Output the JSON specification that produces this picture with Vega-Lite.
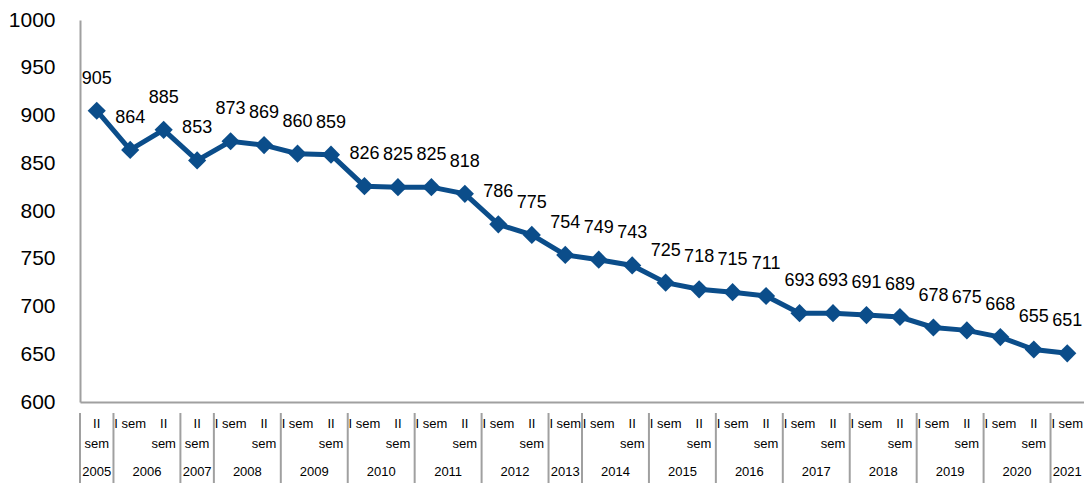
{
  "$schema": "https://vega.github.io/schema/vega-lite/v6.json",
  "padding": {"left": 8, "top": 9, "right": 0, "bottom": 0},
  "spacing": 0,
  "config": {
    "view": {"stroke": null},
    "font": "Liberation Sans",
    "axis": {"labelFont": "Liberation Sans", "labelColor": "#000000"}
  },
  "datasets": {
    "series": [
      {"p": "2005-II", "year": "2005", "sem": "II\nsem", "v": 905},
      {"p": "2006-I", "year": "2006", "sem": "I sem", "v": 864},
      {"p": "2006-II", "year": "2006", "sem": "II\nsem", "v": 885},
      {"p": "2007-II", "year": "2007", "sem": "II\nsem", "v": 853},
      {"p": "2008-I", "year": "2008", "sem": "I sem", "v": 873},
      {"p": "2008-II", "year": "2008", "sem": "II\nsem", "v": 869},
      {"p": "2009-I", "year": "2009", "sem": "I sem", "v": 860},
      {"p": "2009-II", "year": "2009", "sem": "II\nsem", "v": 859},
      {"p": "2010-I", "year": "2010", "sem": "I sem", "v": 826},
      {"p": "2010-II", "year": "2010", "sem": "II\nsem", "v": 825},
      {"p": "2011-I", "year": "2011", "sem": "I sem", "v": 825},
      {"p": "2011-II", "year": "2011", "sem": "II\nsem", "v": 818},
      {"p": "2012-I", "year": "2012", "sem": "I sem", "v": 786},
      {"p": "2012-II", "year": "2012", "sem": "II\nsem", "v": 775},
      {"p": "2013-I", "year": "2013", "sem": "I sem", "v": 754},
      {"p": "2014-I", "year": "2014", "sem": "I sem", "v": 749},
      {"p": "2014-II", "year": "2014", "sem": "II\nsem", "v": 743},
      {"p": "2015-I", "year": "2015", "sem": "I sem", "v": 725},
      {"p": "2015-II", "year": "2015", "sem": "II\nsem", "v": 718},
      {"p": "2016-I", "year": "2016", "sem": "I sem", "v": 715},
      {"p": "2016-II", "year": "2016", "sem": "II\nsem", "v": 711},
      {"p": "2017-I", "year": "2017", "sem": "I sem", "v": 693},
      {"p": "2017-II", "year": "2017", "sem": "II\nsem", "v": 693},
      {"p": "2018-I", "year": "2018", "sem": "I sem", "v": 691},
      {"p": "2018-II", "year": "2018", "sem": "II\nsem", "v": 689},
      {"p": "2019-I", "year": "2019", "sem": "I sem", "v": 678},
      {"p": "2019-II", "year": "2019", "sem": "II\nsem", "v": 675},
      {"p": "2020-I", "year": "2020", "sem": "I sem", "v": 668},
      {"p": "2020-II", "year": "2020", "sem": "II\nsem", "v": 655},
      {"p": "2021-I", "year": "2021", "sem": "I sem", "v": 651}
    ],
    "years": [
      {"p": "2005-II", "year": "2005", "n": 1},
      {"p": "2006-I", "year": "2006", "n": 2},
      {"p": "2007-II", "year": "2007", "n": 1},
      {"p": "2008-I", "year": "2008", "n": 2},
      {"p": "2009-I", "year": "2009", "n": 2},
      {"p": "2010-I", "year": "2010", "n": 2},
      {"p": "2011-I", "year": "2011", "n": 2},
      {"p": "2012-I", "year": "2012", "n": 2},
      {"p": "2013-I", "year": "2013", "n": 1},
      {"p": "2014-I", "year": "2014", "n": 2},
      {"p": "2015-I", "year": "2015", "n": 2},
      {"p": "2016-I", "year": "2016", "n": 2},
      {"p": "2017-I", "year": "2017", "n": 2},
      {"p": "2018-I", "year": "2018", "n": 2},
      {"p": "2019-I", "year": "2019", "n": 2},
      {"p": "2020-I", "year": "2020", "n": 2},
      {"p": "2021-I", "year": "2021", "n": 1}
    ]
  },
  "vconcat": [
    {
      "width": 1004,
      "height": 382,
      "data": {"name": "series"},
      "encoding": {
        "x": {
          "field": "p", "type": "ordinal",
          "scale": {"type": "band", "paddingInner": 0, "paddingOuter": 0},
          "axis": {"orient": "bottom", "labels": false, "ticks": false, "title": null, "domainColor": "#A0A0A0", "domainWidth": 2}
        },
        "y": {
          "field": "v", "type": "quantitative",
          "scale": {"domain": [600, 1000], "nice": false, "zero": false},
          "axis": {
            "values": [600, 650, 700, 750, 800, 850, 900, 950, 1000],
            "format": "d",
            "grid": false, "ticks": false, "tickSize": 0, "title": null,
            "labelFontSize": 21, "labelPadding": 25,
            "domainColor": "#A0A0A0", "domainWidth": 2
          }
        }
      },
      "layer": [
        {"mark": {"type": "line", "color": "#0B4D8A", "strokeWidth": 5}},
        {"mark": {"type": "point", "shape": "diamond", "filled": true, "size": 330, "color": "#0B4D8A", "opacity": 1}},
        {"mark": {"type": "text", "fontSize": 18, "dy": -32, "color": "#000000"}, "encoding": {"text": {"field": "v", "type": "quantitative"}}}
      ]
    },
    {
      "width": 1004,
      "height": 81,
      "layer": [
        {
          "data": {"name": "series"},
          "mark": {"type": "text", "fontSize": 13, "lineBreak": "\n", "lineHeight": 20, "baseline": "top", "dy": -36, "color": "#000000"},
          "encoding": {
            "x": {"field": "p", "type": "ordinal", "scale": {"type": "band", "paddingInner": 0, "paddingOuter": 0}, "axis": null},
            "text": {"field": "sem"}
          }
        },
        {
          "data": {"name": "years"},
          "mark": {"type": "rule", "color": "#A0A0A0", "strokeWidth": 2},
          "encoding": {
            "x": {"field": "p", "type": "ordinal", "bandPosition": 0}
          }
        },
        {
          "data": {"name": "years"},
          "transform": [{"filter": "datum.n == 1"}],
          "mark": {"type": "text", "fontSize": 13, "dy": 18.5, "color": "#000000"},
          "encoding": {
            "x": {"field": "p", "type": "ordinal", "bandPosition": 0.5},
            "text": {"field": "year"}
          }
        },
        {
          "data": {"name": "years"},
          "transform": [{"filter": "datum.n == 2"}],
          "mark": {"type": "text", "fontSize": 13, "dy": 18.5, "color": "#000000"},
          "encoding": {
            "x": {"field": "p", "type": "ordinal", "bandPosition": 1},
            "text": {"field": "year"}
          }
        }
      ]
    }
  ]
}
